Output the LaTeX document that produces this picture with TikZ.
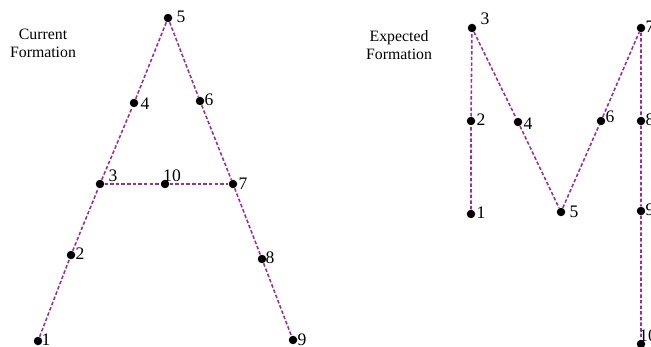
\documentclass[tikz,border=0pt]{standalone}
\usepackage{fontspec}
\setmainfont{Liberation Serif}
\usepackage{tikz}
\usetikzlibrary{positioning}
\definecolor{pathpurple}{RGB}{155,45,160}

\begin{document}
\begin{tikzpicture}[x=0.02cm,y=-0.02cm,
  pt/.style={circle,fill=black,inner sep=0pt,minimum size=0.17cm},
  num/.style={inner sep=0.5pt,font=\fontsize{10}{12}\selectfont},
  link/.style={draw=pathpurple,line width=0.9pt,dash pattern=on 2pt off 1.2pt},
  title/.style={align=center,font=\fontsize{9}{10.3}\selectfont}]
\useasboundingbox (0,0) rectangle (651,347);
% current formation (A)
\node[title] (cur) at (43,43) {Current\\Formation};
\node[pt] (a1) at (38,341) {};
\node[pt] (a2) at (71,255) {};
\node[pt] (a3) at (100,184) {};
\node[pt] (a4) at (134,103) {};
\node[pt] (a5) at (168,18) {};
\node[pt] (a6) at (200,101) {};
\node[pt] (a7) at (233,184) {};
\node[pt] (a8) at (262,259) {};
\node[pt] (a9) at (293,340) {};
\node[pt] (a10) at (165,184) {};
\draw[link] (a1) -- (a2) -- (a3) -- (a4) -- (a5) -- (a6) -- (a7) -- (a8) -- (a9);
\draw[link] (a3) -- (a10) -- (a7);
\node[num] (a1n) at (46,340) {1};
\node[num] (a2n) at (80,254) {2};
\node[num] (a3n) at (113,176) {3};
\node[num] (a4n) at (145,104) {4};
\node[num] (a5n) at (181,17) {5};
\node[num] (a6n) at (209,100) {6};
\node[num] (a7n) at (243,184) {7};
\node[num] (a8n) at (270,258) {8};
\node[num] (a9n) at (302,340) {9};
\node[num] (a10n) at (172,176) {10};
% expected formation (M)
\node[title] (exp) at (399,45) {Expected\\Formation};
\node[pt] (m1) at (471,214) {};
\node[pt] (m2) at (471,121) {};
\node[pt] (m3) at (472,28) {};
\node[pt] (m4) at (518,122) {};
\node[pt] (m5) at (561,212) {};
\node[pt] (m6) at (601,121) {};
\node[pt] (m7) at (641,28) {};
\node[pt] (m8) at (641,121) {};
\node[pt] (m9) at (641,211) {};
\node[pt] (m10) at (641,344) {};
\draw[link] (m1) -- (m2) -- (m3) -- (m4) -- (m5) -- (m6) -- (m7) -- (m8) -- (m9) -- (m10);
\node[num] (m1n) at (481,213) {1};
\node[num] (m2n) at (481,120) {2};
\node[num] (m3n) at (485,19) {3};
\node[num] (m4n) at (528,124) {4};
\node[num] (m5n) at (574,212) {5};
\node[num] (m6n) at (610,117) {6};
\node[num] (m7n) at (650,27) {7};
\node[num] (m8n) at (650,120) {8};
\node[num] (m9n) at (650,210) {9};
\node[num] (m10n) at (648,336) {10};
\end{tikzpicture}
\end{document}
